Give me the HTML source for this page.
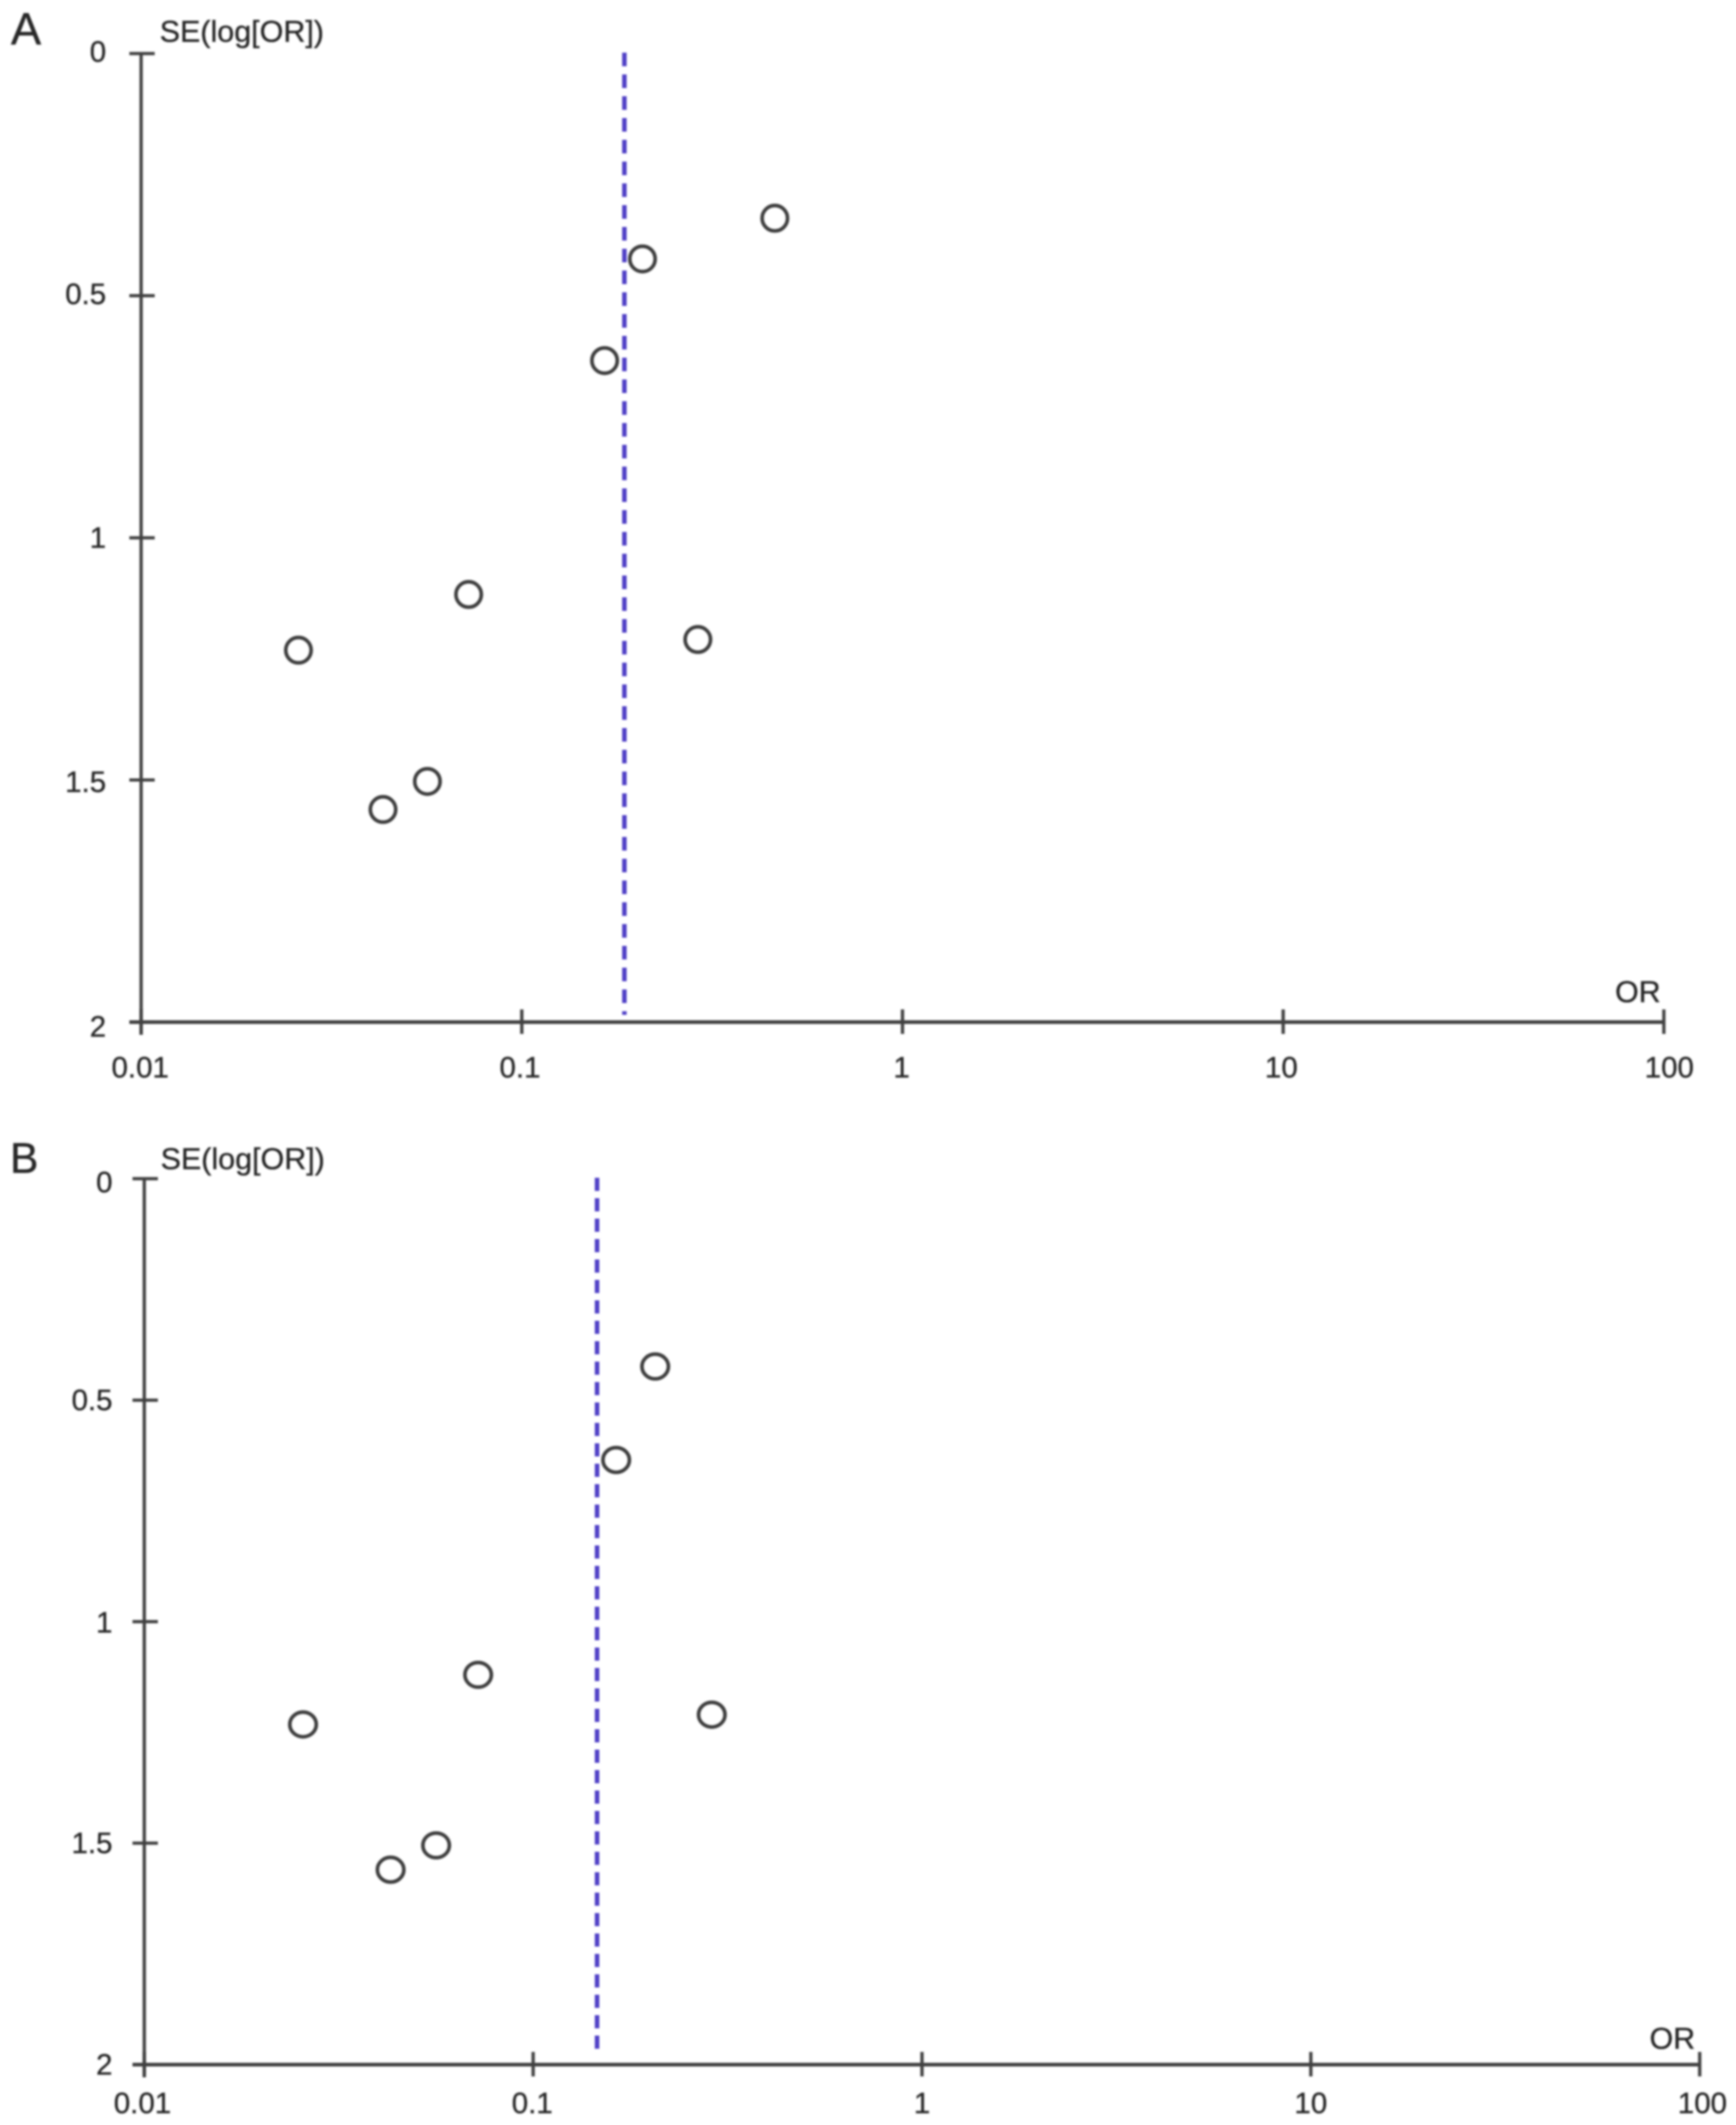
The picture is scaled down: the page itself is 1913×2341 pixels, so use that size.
<!DOCTYPE html>
<html lang="en">
<head>
<meta charset="utf-8">
<title>Funnel plots A and B</title>
<style>
html,body{margin:0;padding:0;background:#fff;}
svg{display:block;}
text{font-family:"Liberation Sans",Arial,sans-serif;fill:#262626;stroke:#262626;stroke-width:0.35px;}
</style>
</head>
<body>
<svg id="chart" xmlns="http://www.w3.org/2000/svg" width="1913" height="2341" viewBox="0 0 1913 2341">
  <defs>
    <filter id="soft" x="-2%" y="-2%" width="104%" height="104%"><feGaussianBlur stdDeviation="1.05"/></filter>
  </defs>
  <rect width="1913" height="2341" fill="#ffffff"/>
  <g id="root" filter="url(#soft)"></g>
</svg>
<script>
const xTickValues = [0.01, 0.1, 1, 10, 100];
const xTickLabels = ['0.01', '0.1', '1', '10', '100'];
const yTickValues = [0, 0.5, 1, 1.5, 2];
const yTickLabels = ['0', '0.5', '1', '1.5', '2'];
const panelAOddsRatios = [0.462, 0.2075, 0.165, 0.0725, 0.29, 0.0259, 0.0565, 0.0432];
const panelAStandardErrors = [0.34, 0.424, 0.634, 1.117, 1.21, 1.232, 1.503, 1.561];
const panelAPooledEstimate = [0.186];
const panelBOddsRatios = [0.206, 0.1635, 0.0722, 0.288, 0.0256, 0.0563, 0.043];
const panelBStandardErrors = [0.424, 0.635, 1.12, 1.21, 1.232, 1.505, 1.56];
const panelBPooledEstimate = [0.146];

const NS = 'http://www.w3.org/2000/svg';
const root = document.getElementById('root');
const AXIS = '#3f3f3f';

function make(tag, parent, attrs, content) {
  const el = document.createElementNS(NS, tag);
  for (const k in attrs) el.setAttribute(k, attrs[k]);
  if (content !== undefined) el.textContent = content;
  parent.appendChild(el);
  return el;
}

function drawPanel(cfg) {
  const xScale = v => cfg.left + (Math.log10(v) + 2) * cfg.decade;
  const yScale = v => cfg.top + v * cfg.unit;
  const xMin = xScale(xTickValues[0]);
  const xMax = xScale(xTickValues[xTickValues.length - 1]);
  const yMin = yScale(yTickValues[0]);
  const yMax = yScale(yTickValues[yTickValues.length - 1]);

  const g = make('g', root, {});
  
  

  const letter = make('text', g, {x: cfg.letterX, y: cfg.letterY, 'font-size': cfg.letterSize}, cfg.id.toUpperCase());
  
  

  const yTitle = make('text', g, {x: cfg.titleX, y: cfg.titleY, 'font-size': 33.6}, 'SE(log[OR])');
  
  

  const xTitle = make('text', g, {x: cfg.orX, y: cfg.orY, 'font-size': 33.5, 'text-anchor': 'end'}, 'OR');
  
  

  const yAxis = make('line', g, {x1: xMin, x2: xMin, y1: yMin, y2: yMax + 14, stroke: AXIS, 'stroke-width': 3.6});
  
  

  const xAxis = make('line', g, {x1: xMin - 13, x2: xMax, y1: yMax, y2: yMax, stroke: AXIS, 'stroke-width': 4});
  
  

  yTickValues.forEach((v, i) => {
    const y = yScale(v);
    const tick = make('line', g, {x1: xMin - 13, x2: xMin + 15, y1: y, y2: y, stroke: AXIS, 'stroke-width': 3.6});
    
    
    const label = make('text', g, {x: cfg.yLabelRight, y: y + cfg.yLabelShift(i), 'font-size': 32.5, 'text-anchor': 'end'}, yTickLabels[i]);
    
    
  });

  xTickValues.forEach((v, i) => {
    const x = xScale(v);
    const tick = make('line', g, {x1: x, x2: x, y1: yMax - 14, y2: yMax + 13, stroke: AXIS, 'stroke-width': 3.6});
    
    
    const label = make('text', g, {x: x + cfg.xLabelShift(i), y: cfg.xLabelY, 'font-size': 32.5, 'text-anchor': 'middle'}, xTickLabels[i]);
    
    
  });

  const px = xScale(cfg.pooled[0]);
  const pooled = make('line', g, {x1: px, x2: px, y1: yMin - 1, y2: cfg.dashEnd, stroke: '#4f41c6', 'stroke-width': 5, 'stroke-dasharray': cfg.dash});
  
  

  cfg.ors.forEach((or, i) => {
    const pt = make('ellipse', g, {cx: xScale(or), cy: yScale(cfg.ses[i]), rx: cfg.rx, ry: cfg.ry, fill: 'none', stroke: '#3c3c3c', 'stroke-width': 4});
    
    
  });
}

drawPanel({
  id: 'a', left: 155.5, decade: 419.5, top: 59, unit: 533.5,
  ors: panelAOddsRatios, ses: panelAStandardErrors, pooled: panelAPooledEstimate,
  letterX: 12, letterY: 49, letterSize: 50, titleX: 176, titleY: 46, orX: 1830, orY: 1104,
  yLabelRight: 117, xLabelY: 1187, dashEnd: 1118, dash: '15 9', rx: 14, ry: 14,
  yLabelShift: i => [9, 9, 11, 13, 16][i],
  xLabelShift: i => [-1, -2, -1, -2, 6][i]
});

drawPanel({
  id: 'b', left: 159, decade: 428.5, top: 1298.5, unit: 488,
  ors: panelBOddsRatios, ses: panelBStandardErrors, pooled: panelBPooledEstimate,
  letterX: 11, letterY: 1292, letterSize: 47, titleX: 177, titleY: 1288, orX: 1868, orY: 2257,
  yLabelRight: 124, xLabelY: 2328, dashEnd: 2265, dash: '14.5 8', rx: 14.6, ry: 13.6,
  yLabelShift: i => [15, 11, 12, 11, 11][i],
  xLabelShift: i => [-2, -1, 0, 0, 3][i]
});
</script>
</body>
</html>
